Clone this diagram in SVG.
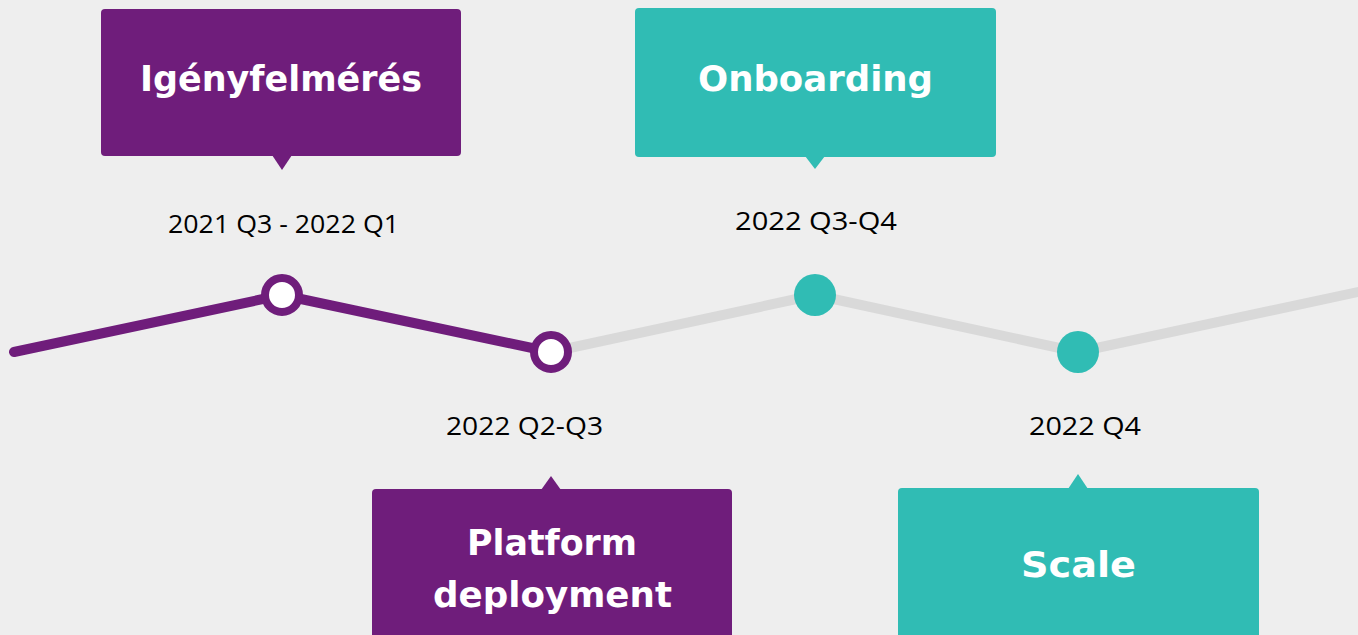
<svg xmlns="http://www.w3.org/2000/svg" width="1358" height="635" viewBox="0 0 1358 635">
<style>
.bg{fill:#eeeeee}
.purple{fill:#6f1d7b}
.teal{fill:#30bcb4}
.ring{fill:#ffffff;stroke:#6f1d7b;stroke-width:8}
.title{font-family:"DejaVu Sans","Open Sans",sans-serif;font-weight:700;font-size:36px;fill:#ffffff;text-anchor:middle}
.date{font-family:"Open Sans","Liberation Sans",sans-serif;font-size:26px;fill:#000000;text-anchor:middle}
.done{fill:none;stroke:#6f1d7b;stroke-width:10;stroke-linecap:round;stroke-linejoin:round}
.todo{fill:none;stroke:#d9d9d9;stroke-width:10;stroke-linejoin:round}
</style>
<rect class="bg" x="0" y="0" width="1358" height="635"/>
<g id="connectors">
<polyline class="todo" points="551,352 815,295 1078,352 1400,283"/>
<polyline class="done" points="14,352 282,295 551,352"/>
</g>
<g id="node-igenyfelmeres">
<rect class="purple" x="101" y="9" width="360" height="147" rx="4"/>
<polygon class="purple" points="272,155 292,155 282,170"/>
<text class="title" x="281" y="91" textLength="282" lengthAdjust="spacingAndGlyphs">Igényfelmérés</text>
<text class="date" x="283.5" y="233" textLength="231" lengthAdjust="spacingAndGlyphs">2021 Q3 - 2022 Q1</text>
<circle class="ring" cx="282" cy="295" r="17"/>
</g>
<g id="node-platform">
<rect class="purple" x="372" y="489" width="360" height="160" rx="4"/>
<polygon class="purple" points="541,490 561,490 551,476"/>
<text class="title" x="552" y="555" textLength="170" lengthAdjust="spacingAndGlyphs">Platform</text>
<text class="title" x="552.5" y="607" textLength="239" lengthAdjust="spacingAndGlyphs">deployment</text>
<text class="date" x="524.5" y="435" textLength="157" lengthAdjust="spacingAndGlyphs">2022 Q2-Q3</text>
<circle class="ring" cx="551" cy="352" r="17"/>
</g>
<g id="node-onboarding">
<rect class="teal" x="635" y="8" width="361" height="149" rx="4"/>
<polygon class="teal" points="805,156 825,156 815,169"/>
<text class="title" x="815.5" y="91" textLength="235" lengthAdjust="spacingAndGlyphs">Onboarding</text>
<text class="date" x="816" y="230" textLength="162" lengthAdjust="spacingAndGlyphs">2022 Q3-Q4</text>
<circle class="teal" cx="815" cy="295" r="21"/>
</g>
<g id="node-scale">
<rect class="teal" x="898" y="488" width="361" height="160" rx="4"/>
<polygon class="teal" points="1068,489 1088,489 1078,474"/>
<text class="title" x="1078.5" y="577" textLength="115" lengthAdjust="spacingAndGlyphs">Scale</text>
<text class="date" x="1085" y="435" textLength="112" lengthAdjust="spacingAndGlyphs">2022 Q4</text>
<circle class="teal" cx="1078" cy="352" r="21"/>
</g>
</svg>
